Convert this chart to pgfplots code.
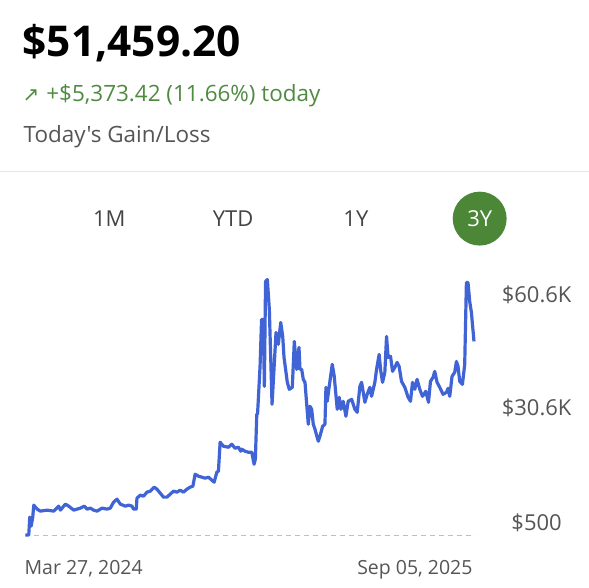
\documentclass[border=0pt]{standalone}
\usepackage{pgfplots}
\pgfplotsset{compat=1.18}
\usepackage{fontspec}
\setmainfont{Open Sans}[Ligatures=TeXOff]
\newfontfamily\symfont{DejaVu Sans}
\definecolor{lineblue}{RGB}{64,100,214}
\definecolor{gaingreen}{RGB}{79,138,65}
\definecolor{pillgreen}{RGB}{76,135,56}
\definecolor{labgray}{RGB}{85,85,85}
\definecolor{tabgray}{RGB}{68,68,68}
\begin{document}
\begin{tikzpicture}[x=1pt,y=1pt]
\path[fill=white] (0,0) rectangle (589,589);
% header
\node[anchor=base west,inner sep=0] at (22,532) {\fontsize{42.5}{46}\selectfont\bfseries \$51,459.20};
\node[anchor=base west,inner sep=0,text=gaingreen] at (22,487) {\fontsize{22.5}{26}\selectfont{\symfont\fontsize{20}{22}\selectfont ↗}\hspace{7pt}+\$5,373.42 (11.66\%) today};
\node[anchor=base west,inner sep=0,text=labgray] at (23,446) {\fontsize{22.5}{26}\selectfont Today's Gain/Loss};
\draw[black!10,line width=1pt] (0,417) -- (589,417);
% tabs
\node[anchor=base,inner sep=0,text=tabgray] at (109,362) {\fontsize{22}{26}\selectfont 1M};
\node[anchor=base,inner sep=0,text=tabgray] at (233,362) {\fontsize{22}{26}\selectfont YTD};
\node[anchor=base,inner sep=0,text=tabgray] at (356,362) {\fontsize{22}{26}\selectfont 1Y};
\fill[pillgreen] (480,370) circle (27);
\node[anchor=base,inner sep=0,text=white] at (480,362) {\fontsize{22}{26}\selectfont 3Y};
\begin{axis}[
  at={(25pt,53pt)}, anchor=south west,
  scale only axis, width=450pt, height=256pt,
  xmin=0, xmax=450, ymin=500, ymax=60600,
  axis line style={draw=none},
  clip=false,
  major tick length=0pt,
  scaled y ticks=false, scaled x ticks=false,
  ytick={3317,30316,57080},
  yticklabels={\$500,\$30.6K,\$60.6K},
  yticklabel pos=right,
  yticklabel style={anchor=center, xshift=62pt, text=labgray, font=\fontsize{22}{25}\selectfont},
  xtick={0},
  xticklabels={Mar 27{,} 2024},
  extra x ticks={450},
  extra x tick labels={Sep 05{,} 2025},
  xticklabel style={anchor=base west, inner sep=0pt, yshift=-39pt, xshift=-1pt, text=labgray, font=\fontsize{19.5}{22}\selectfont},
  extra x tick style={xticklabel style={anchor=base east, inner sep=0pt, xshift=-1pt}, grid=none},
  /pgf/number format/assume math mode=true,
]
\draw[black!25,dashed,dash pattern=on 5pt off 4pt,line width=0.8pt] (axis cs:0,500) -- (axis cs:450,500);
\addplot[lineblue, line width=3.2pt, line join=round, no marks] coordinates {
(0,500) (3.3,500) (4.3,4726) (5.7,2613) (7.3,4726) (8.3,7543) (11.7,6604) (15,6134)
(21.7,6369) (28.3,6134) (33.3,7308) (35,6369) (40,7778) (43.3,7308) (48.3,6369)
(55,6839) (59,7308) (61.7,6604) (65,6839) (68.3,6369) (71.7,6134) (76.7,6839)
(81.7,6604) (85,6839) (88.3,8247) (91.7,8952) (95,7778) (100,7308) (103.3,7543)
(106.7,7308) (108.3,6604) (111,6604) (111.7,9186) (115,9891) (118.3,9656)
(121.7,10595) (125,10830) (129,11769) (131.7,11299) (135,10360) (138.3,9421)
(141.7,9421) (145,10126) (148.3,10830) (151.7,10595) (155,11065) (158.3,10595)
(161.7,11299) (165,11769) (167.7,12004) (170,14821) (173.3,14351) (176.7,14117)
(180,13882) (183.3,14117) (186.7,13412) (189,12943) (191.7,15291) (193.3,15525)
(195,22334) (198.3,21395) (203.3,21160) (206.7,21864) (210,20925) (213.3,21160)
(215.7,20221) (216.7,20690) (220,20221) (223.3,19986) (226.7,19986) (229,17169)
(230.3,18343) (231.7,28907) (232.5,29000) (235,40176) (236.5,51210) (238.3,51210)
(239.3,35481) (240.5,60132) (242.3,60600) (244.3,53558) (247,31255) (251,48158)
(253.3,45341) (255.7,50506) (257.7,47219) (259,42289) (262.3,36420) (264.3,34776)
(267.3,35246) (269.3,46045) (271.7,39472) (274,44637) (275,39472) (276.7,39472)
(278.3,37124) (280,36420) (283.3,26559) (285,30785) (286.7,30081) (288.3,26559)
(290,25386) (293.3,22568) (295,23742) (297.7,26090) (300,26559) (301,35246)
(302.3,31959) (304.3,35481) (307.3,40646) (309.3,37828) (312.3,30081) (314.3,32898)
(316,30081) (318.3,31959) (321,28438) (323.3,31959) (326.7,32429) (330,30081)
(332.3,29377) (335,35481) (336.7,36420) (340,31724) (342.3,33603) (345,35246)
(346.7,33133) (350,36420) (351.7,39472) (354.3,42993) (355.7,39472) (357.7,36420)
(360,38768) (361.7,47219) (363.3,42289) (365.7,42524) (367.7,39002) (370,39941)
(372.3,41115) (374.3,40176) (376.7,36655) (380,35246) (383.3,32898) (385.7,31959)
(387.7,36420) (390,34776) (392.3,37124) (395,34776) (397.7,33133) (401,34307)
(403.7,31724) (405.7,36655) (408.3,37594) (410,39002) (412.3,36420) (415,35246)
(418.3,33603) (421.7,34072) (423.3,35011) (425,33133) (427.3,37828) (430,38768)
(431.7,41350) (433.3,40176) (435,36655) (437.7,35950) (440,40646) (441.7,59897)
(443.3,59897) (445,55436) (446.7,52854) (449.3,46045)
};
\end{axis}
\end{tikzpicture}
\end{document}
